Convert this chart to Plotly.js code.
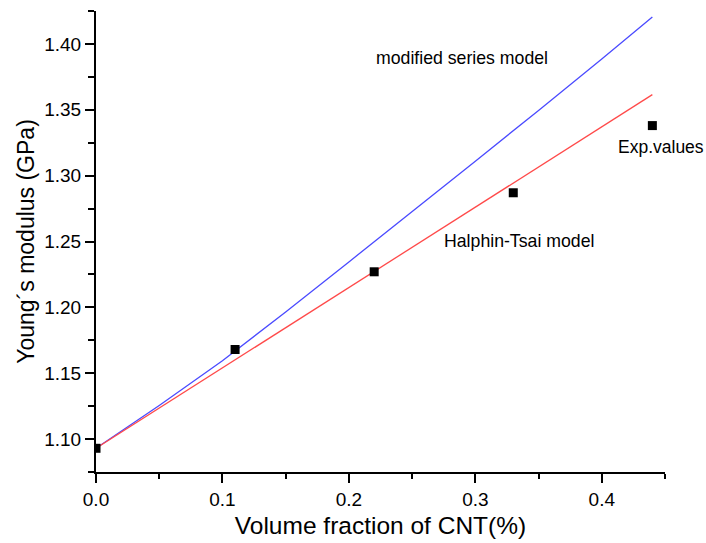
<!DOCTYPE html>
<html>
<head>
<meta charset="utf-8">
<script src="https://cdn.plot.ly/plotly-3.0.1.min.js"></script>
<style>html,body{margin:0;padding:0;background:#fff;}#chart{width:706px;height:543px;}</style>
</head>
<body>
<div id="chart"></div>
<script>
// Experimental values
const expX = [0.0, 0.11, 0.22, 0.33, 0.44];
const expY = [1.093, 1.168, 1.227, 1.287, 1.338];

// Modified series model (blue curve)
const seriesX = [0.0, 0.05, 0.10, 0.15, 0.20, 0.25, 0.30, 0.35, 0.40, 0.44];
const seriesY = [1.093, 1.1255, 1.1595, 1.1965, 1.2345, 1.2725, 1.311, 1.3495, 1.3885, 1.4205];

// Halphin-Tsai model (red curve)
const htX = [0.0, 0.10, 0.20, 0.30, 0.40, 0.44];
const htY = [1.093, 1.154, 1.215, 1.276, 1.337, 1.3615];

const xTicks = [0.0, 0.1, 0.2, 0.3, 0.4];
const xTickText = ['0.0', '0.1', '0.2', '0.3', '0.4'];
const yTicks = [1.10, 1.15, 1.20, 1.25, 1.30, 1.35, 1.40];
const yTickText = ['1.10', '1.15', '1.20', '1.25', '1.30', '1.35', '1.40'];

const FONT = 'Liberation Sans, Arial, Helvetica, sans-serif';

const traces = [
  {x: seriesX, y: seriesY, mode: 'lines', name: 'modified series model',
   line: {color: '#4a4aff', width: 1.3}, showlegend: false},
  {x: htX, y: htY, mode: 'lines', name: 'Halphin-Tsai model',
   line: {color: '#ff4a4a', width: 1.3}, showlegend: false},
  {x: expX, y: expY, mode: 'markers', name: 'Exp.values',
   marker: {symbol: 'square', size: 9, color: '#000'}, showlegend: false, cliponaxis: true}
];

const axisCommon = {
  showgrid: false, zeroline: false, showline: true, linecolor: '#000', linewidth: 2,
  ticks: 'outside', ticklen: 9, tickwidth: 2, tickcolor: '#000',
  tickfont: {family: FONT, size: 19, color: '#000'}, automargin: false, mirror: false
};

const layout = {
  width: 706, height: 543,
  margin: {l: 96, r: 41, t: 11, b: 71},
  paper_bgcolor: '#fff', plot_bgcolor: '#fff',
  font: {family: FONT, color: '#000'},
  xaxis: Object.assign({}, axisCommon, {
    range: [0, 0.45], tickvals: xTicks, ticktext: xTickText,
    minor: {dtick: 0.05, tick0: 0, ticks: 'outside', ticklen: 5, tickwidth: 2, tickcolor: '#000', showgrid: false},
    title: {text: 'Volume fraction of CNT(%)', font: {family: FONT, size: 24.5, color: '#000'}, standoff: 8}
  }),
  yaxis: Object.assign({}, axisCommon, {
    range: [1.075, 1.425], tickvals: yTicks, ticktext: yTickText,
    minor: {dtick: 0.025, tick0: 1.075, ticks: 'outside', ticklen: 6, tickwidth: 2, tickcolor: '#000', showgrid: false},
    title: {text: 'Young\u00b4s modulus (GPa)', font: {family: FONT, size: 23, color: '#000'}, standoff: 3}
  }),
  annotations: [
    {x: 0.2196, y: 1.3897, xref: 'x', yref: 'y', text: 'modified series model', showarrow: false,
     xanchor: 'left', font: {family: FONT, size: 17.7, color: '#000'}},
    {x: 0.2733, y: 1.2507, xref: 'x', yref: 'y', text: 'Halphin-Tsai model', showarrow: false,
     xanchor: 'left', font: {family: FONT, size: 17.7, color: '#000'}},
    {x: 0.4115, y: 1.3217, xref: 'x', yref: 'y', text: 'Exp.values', showarrow: false,
     xanchor: 'left', font: {family: FONT, size: 17.5, color: '#000'}}
  ]
};

Plotly.newPlot('chart', traces, layout, {displayModeBar: false, staticPlot: true});
</script>
</body>
</html>
